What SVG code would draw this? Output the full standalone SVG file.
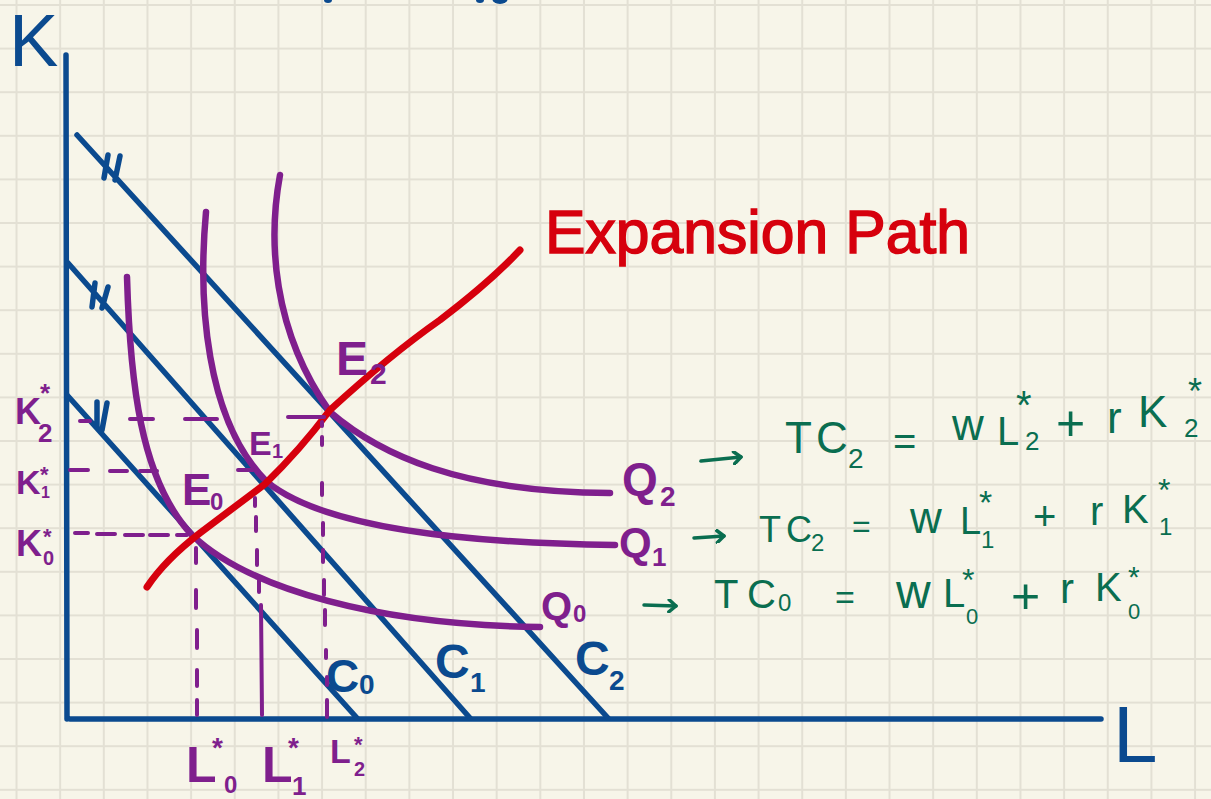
<svg xmlns="http://www.w3.org/2000/svg" width="1211" height="799" viewBox="0 0 1211 799">
<style>
text{font-family:"Liberation Sans",Arial,sans-serif}
.b{fill:#0b4a8f}
.p{fill:#7f1f8d;font-weight:bold}
.g{fill:#0a6e50}
.r{fill:#d6000d;stroke:#d6000d;stroke-width:1.5}
.bl{fill:none;stroke:#0b4a8f;stroke-width:5.5;stroke-linecap:round}
.pl{fill:none;stroke:#7f1f8d;stroke-width:6.5;stroke-linecap:round}
.dash{fill:none;stroke:#7f1f8d;stroke-width:4;stroke-linecap:round}
.gl{fill:none;stroke:#0a6e50;stroke-width:3.5;stroke-linecap:round;stroke-linejoin:round}
</style>
<defs>
<pattern id="grid" patternUnits="userSpaceOnUse" x="-5.3" y="-16.8" width="43.65" height="43.6">
<rect x="20.8" y="0" width="2" height="43.6" fill="#e3e0d4"/>
<rect x="0" y="20.8" width="43.65" height="2" fill="#e3e0d4"/>
</pattern>
<marker id="head" markerWidth="12" markerHeight="14" refX="9" refY="7" orient="auto" markerUnits="userSpaceOnUse">
<path d="M2,1 L9,7 L2,13" fill="none" stroke="#0a6e50" stroke-width="3.5" stroke-linecap="round" stroke-linejoin="round"/>
</marker>
</defs>
<rect width="1211" height="799" fill="#f7f5e9"/>
<rect width="1211" height="799" fill="url(#grid)"/>

<g id="title-fragment" fill="#0b4a8f">
<ellipse cx="328" cy="0" rx="4" ry="3"/>
<ellipse cx="480" cy="0" rx="4" ry="3"/>
<ellipse cx="500" cy="-2" rx="8" ry="6"/>
</g>

<g id="axes">
<path class="bl" d="M66,55 L67,719 M70,719 L1101,719"/>
<text class="b" x="9" y="66" font-size="74">K</text>
<text class="b" x="1113" y="762" font-size="80">L</text>
</g>

<g id="budget-lines">
<g id="C2">
<path class="bl" d="M77,135 L608,718 M108,155 L104,178 M120,156 L115,180"/>
<text class="b" font-weight="bold"><tspan x="575" y="675" font-size="48">C</tspan><tspan x="609" y="690" font-size="28">2</tspan></text>
</g>
<g id="C1">
<path class="bl" d="M68,263 L470,718 M95,283 L92,307 M108,287 L102,308"/>
<text class="b" font-weight="bold"><tspan x="435" y="678" font-size="48">C</tspan><tspan x="470" y="692" font-size="28">1</tspan></text>
</g>
<g id="C0">
<path class="bl" d="M67,395 L357,718 M97,402 L97,428 M107,403 L102,430"/>
<text class="b" font-weight="bold"><tspan x="326" y="692" font-size="46">C</tspan><tspan x="359" y="694" font-size="28">0</tspan></text>
</g>
</g>

<g id="isoquants">
<g id="Q2">
<path class="pl" d="M280,175 C268,240 272,330 330,412 C380,455 460,492 610,493"/>
<text class="p"><tspan x="622" y="495" font-size="46">Q</tspan><tspan x="660" y="506" font-size="28">2</tspan></text>
</g>
<g id="Q1">
<path class="pl" d="M206,212 C198,300 205,420 267,482 C320,525 450,543 615,545"/>
<text class="p"><tspan x="619" y="557" font-size="42">Q</tspan><tspan x="652" y="566" font-size="26">1</tspan></text>
</g>
<g id="Q0">
<path class="pl" d="M127,277 C130,380 140,480 192,535 C250,590 380,625 540,627"/>
<text class="p"><tspan x="541" y="620" font-size="40">Q</tspan><tspan x="573" y="622" font-size="24">0</tspan></text>
</g>
</g>

<g id="expansion-path">
<path fill="none" stroke="#d6000d" stroke-width="7" stroke-linecap="round" d="M147,587 Q165,560 200,533 L265,484 Q300,450 330,410 Q390,355 440,320 Q490,282 520,250"/>
<text class="r" x="545" y="253" font-size="62" textLength="425" lengthAdjust="spacingAndGlyphs">Expansion Path</text>
</g>

<g id="guides">
<path class="dash" d="M80,421 h10 M130,419 h23 M185,419 h32 M288,417 h36"/>
<path class="dash" d="M70,470 h18 M110,471 h17 M140,471 h17 M238,470 h15"/>
<path class="dash" d="M75,533 h13 M97,534 h18 M125,535 h18 M150,535 h18 M177,535 h10"/>
<path class="dash" d="M196,548 v15 M196,590 v18 M197,630 v18 M197,670 v16 M197,700 v15"/>
<path class="dash" d="M255,498 v8 M256,517 v14 M257,550 v15 M259,580 v12 M261,605 L262,715"/>
<path class="dash" d="M322,422 v4 M322,437 v8 M322,483 v12 M323,523 v12 M323,550 v12 M324,580 v15 M325,610 v15 M326,650 v8 M327,677 v8 M327,700 v17"/>
</g>

<g id="equilibria">
<text id="E0" class="p"><tspan x="182" y="505" font-size="44">E</tspan><tspan x="210" y="510" font-size="24">0</tspan></text>
<text id="E1" class="p"><tspan x="249" y="455" font-size="34">E</tspan><tspan x="272" y="458" font-size="20">1</tspan></text>
<text id="E2" class="p"><tspan x="336" y="375" font-size="48">E</tspan><tspan x="370" y="384" font-size="30">2</tspan></text>
</g>

<g id="axis-values">
<text id="K2" class="p"><tspan x="15" y="424" font-size="36">K</tspan><tspan x="40" y="402" font-size="26">*</tspan><tspan x="38" y="442" font-size="26">2</tspan></text>
<text id="K1" class="p"><tspan x="16" y="494" font-size="34">K</tspan><tspan x="40" y="482" font-size="22">*</tspan><tspan x="41" y="498" font-size="16">1</tspan></text>
<text id="K0" class="p"><tspan x="16" y="556" font-size="36">K</tspan><tspan x="43" y="544" font-size="22">*</tspan><tspan x="43" y="565" font-size="20">0</tspan></text>
<text id="L0" class="p"><tspan x="186" y="782" font-size="50">L</tspan><tspan x="212" y="757" font-size="28">*</tspan><tspan x="224" y="793" font-size="24">0</tspan></text>
<text id="L1" class="p"><tspan x="262" y="782" font-size="50">L</tspan><tspan x="288" y="757" font-size="28">*</tspan><tspan x="292" y="795" font-size="26">1</tspan></text>
<text id="L2" class="p"><tspan x="330" y="763" font-size="34">L</tspan><tspan x="354" y="752" font-size="22">*</tspan><tspan x="354" y="776" font-size="20">2</tspan></text>
</g>

<g id="connectors">
<path class="gl" d="M701,461 L741,457" marker-end="url(#head)"/>
<path class="gl" d="M694,538 L724,536" marker-end="url(#head)"/>
<path class="gl" d="M644,605 L676,606" marker-end="url(#head)"/>
</g>

<g id="equations">
<text id="TC2" class="g"><tspan x="785" y="453" font-size="44">T</tspan><tspan x="816" y="453" font-size="44">C</tspan><tspan x="848" y="468" font-size="28">2</tspan><tspan x="893" y="455" font-size="40">=</tspan><tspan x="952" y="440" font-size="44">w</tspan><tspan x="997" y="445" font-size="40">L</tspan><tspan x="1016" y="419" font-size="40">*</tspan><tspan x="1025" y="450" font-size="26">2</tspan><tspan x="1056" y="440" font-size="50">+</tspan><tspan x="1107" y="433" font-size="44">r</tspan><tspan x="1138" y="427" font-size="44">K</tspan><tspan x="1188" y="404" font-size="36">*</tspan><tspan x="1184" y="437" font-size="26">2</tspan></text>
<text id="TC1" class="g"><tspan x="759" y="542" font-size="36">T</tspan><tspan x="786" y="542" font-size="36">C</tspan><tspan x="811" y="551" font-size="24">2</tspan><tspan x="852" y="537" font-size="32">=</tspan><tspan x="910" y="533" font-size="44">w</tspan><tspan x="960" y="534" font-size="38">L</tspan><tspan x="979" y="514" font-size="34">*</tspan><tspan x="981" y="548" font-size="24">1</tspan><tspan x="1033" y="530" font-size="40">+</tspan><tspan x="1090" y="525" font-size="40">r</tspan><tspan x="1122" y="523" font-size="40">K</tspan><tspan x="1158" y="501" font-size="32">*</tspan><tspan x="1159" y="535" font-size="24">1</tspan></text>
<text id="TC0" class="g"><tspan x="714" y="608" font-size="40">T</tspan><tspan x="747" y="608" font-size="40">C</tspan><tspan x="778" y="611" font-size="24">0</tspan><tspan x="835" y="609" font-size="34">=</tspan><tspan x="896" y="608" font-size="48">w</tspan><tspan x="943" y="607" font-size="40">L</tspan><tspan x="962" y="591" font-size="32">*</tspan><tspan x="966" y="624" font-size="22">0</tspan><tspan x="1011" y="613" font-size="50">+</tspan><tspan x="1060" y="603" font-size="42">r</tspan><tspan x="1095" y="601" font-size="40">K</tspan><tspan x="1128" y="587" font-size="30">*</tspan><tspan x="1128" y="619" font-size="22">0</tspan></text>
</g>
</svg>
